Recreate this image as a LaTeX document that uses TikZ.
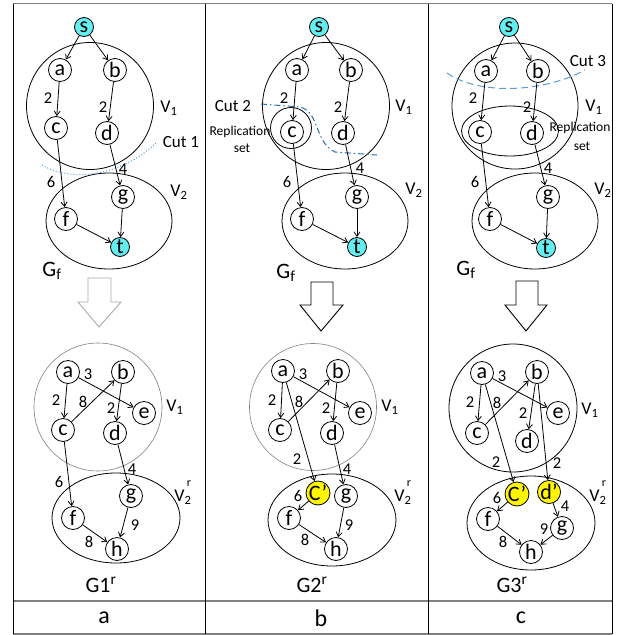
\documentclass[tikz,border=0pt]{standalone}
\usepackage{fontspec}
\setmainfont{Carlito}
\usetikzlibrary{arrows.meta}
\definecolor{cyanf}{RGB}{100,238,240}
\definecolor{yel}{RGB}{255,245,0}
\definecolor{cutblue}{RGB}{91,155,213}
\definecolor{cutdark}{RGB}{40,110,180}
\definecolor{tblgray}{RGB}{128,128,128}
\definecolor{arrgray}{RGB}{170,170,170}
\begin{document}
\begin{tikzpicture}[x=1pt,y=-1pt,
  vtx/.style={circle,draw,line width=0.8pt,minimum size=23pt,inner sep=0pt,font=\fontsize{22}{22}\selectfont},
  term/.style={vtx,fill=cyanf,minimum size=19pt},
  repl/.style={vtx,fill=yel},
  arr/.style={-{Straight Barb[length=4.5pt,width=6pt]},line width=0.8pt},
  lbl/.style={inner sep=0pt,font=\fontsize{16.5}{16.5}\selectfont},
  vlab/.style={inner sep=0pt,font=\fontsize{18}{18}\selectfont},
  suplab/.style={inner sep=0pt,font=\fontsize{12}{12}\selectfont},
  cutlab/.style={inner sep=0pt,font=\fontsize{17}{17}\selectfont},
  replab/.style={inner sep=0pt,font=\fontsize{13.5}{13.5}\selectfont},
  glab/.style={inner sep=0pt,font=\fontsize{22}{22}\selectfont},
  rowlab/.style={inner sep=0pt,font=\fontsize{24}{24}\selectfont},
  setline/.style={line width=0.8pt},
  hollowarrow/.style={line width=0.9pt,fill=white}
]
\useasboundingbox (0,0) rectangle (618,635);
% table
\draw[tblgray,line width=1.2pt] (13,3.5) -- (612,3.5);
\draw[tblgray,line width=1.2pt] (13,601) -- (612,601);
\draw[tblgray,line width=1.2pt] (13,634) -- (612,634);
\foreach \xx in {13,205,428,612} \draw[line width=1pt] (\xx,3.5) -- (\xx,634);

% ================= column a, top =================
\draw[setline] (90,106) circle [radius=63.5];
\draw[setline] (109,221) ellipse [x radius=63,y radius=48];
\draw[cutblue,line width=1pt,dotted] (42,165) .. controls (72,183) and (122,176) .. (157,142);
\node[term] (sA) at (84,27) {s};
\node[vtx] (aA) at (60,70) {a};
\node[vtx] (bA) at (115,70) {b};
\node[vtx] (cA) at (56,128) {c};
\node[vtx] (dA) at (107,133) {d};
\node[vtx] (gA) at (123,197) {g};
\node[vtx] (fA) at (66,219) {f};
\node[term] (tA) at (120,247) {t};
\draw[arr] (sA) -- (aA); \draw[arr] (sA) -- (bA);
\draw[arr] (aA) -- (cA); \draw[arr] (bA) -- (dA);
\draw[arr] (cA) -- (fA); \draw[arr] (dA) -- (gA);
\draw[arr] (fA) -- (tA); \draw[arr] (gA) -- (tA);
\node[lbl] (wA1) at (48,98) {2};
\node[lbl] (wA2) at (103,107) {2};
\node[lbl] (wA3) at (51,182) {6};
\node[lbl] (wA4) at (123,169) {4};
\node[vlab] (v1A) at (169,108) {V\textsubscript{1}};
\node[cutlab] (cut1) at (181,142) {Cut 1};
\node[vlab] (v2A) at (179,192) {V\textsubscript{2}};
\node[glab] (gfA) at (52,271) {G\textsubscript{f}};
\draw[arrgray,hollowarrow] (88,278) -- (111,278) -- (111,302) -- (121,302) -- (99,327) -- (78,302) -- (88,302) -- cycle;

% ================= column a, bottom =================
\draw[tblgray,line width=0.6pt] (98,407) circle [radius=64];
\draw[setline] (116,518) ellipse [x radius=64,y radius=45];
\node[vtx] (aA2) at (68,372) {a};
\node[vtx] (bA2) at (123,372) {b};
\node[vtx] (eA2) at (144,413) {e};
\node[vtx] (cA2) at (63,430) {c};
\node[vtx] (dA2) at (115,433) {d};
\node[vtx] (gA2) at (131,496) {g};
\node[vtx] (fA2) at (73,518) {f};
\node[vtx] (hA2) at (117,549) {h};
\draw[arr] (aA2) -- (cA2); \draw[arr] (aA2) -- (eA2);
\draw[arr] (cA2) -- (bA2); \draw[arr] (bA2) -- (dA2);
\draw[arr] (cA2) -- (fA2); \draw[arr] (dA2) -- (gA2);
\draw[arr] (fA2) -- (hA2); \draw[arr] (gA2) -- (hA2);
\node[lbl] (xA1) at (88,374) {3};
\node[lbl] (xA2) at (56,400) {2};
\node[lbl] (xA3) at (83,402) {8};
\node[lbl] (xA4) at (111,408) {2};
\node[vlab] (v1A2) at (175,407) {V\textsubscript{1}};
\node[lbl] (xA5) at (59,482) {6};
\node[lbl] (xA6) at (132,469) {4};
\node[vlab] (v2A2) at (183,497) {V\textsubscript{2}};
\node[suplab] (v2A2r) at (189,484) {r};
\node[lbl] (xA7) at (135,525) {9};
\node[lbl] (xA8) at (89,542) {8};
\node[glab] (gA1r) at (101,585) {G1\textsuperscript{r}};
\node[rowlab] (rowa) at (104,618) {a};

% ================= column b, top =================
\draw[setline] (326,106) circle [radius=63.5];
\draw[setline] (291,128) circle [radius=20.5];
\draw[setline] (345,221) ellipse [x radius=63,y radius=48];
\draw[cutdark,line width=1pt,dash pattern=on 6pt off 3pt on 1.5pt off 3pt] (261,104) -- (300,107) .. controls (320,112) and (314,142) .. (335,152) -- (377,155);
\node[term] (sB) at (319,27) {s};
\node[vtx] (aB) at (297,70) {a};
\node[vtx] (bB) at (351,70) {b};
\node[vtx] (cB) at (292,132) {c};
\node[vtx] (dB) at (343,133) {d};
\node[vtx] (gB) at (357,197) {g};
\node[vtx] (fB) at (302,219) {f};
\node[term] (tB) at (357,247) {t};
\draw[arr] (sB) -- (aB); \draw[arr] (sB) -- (bB);
\draw[arr] (aB) -- (cB); \draw[arr] (bB) -- (dB);
\draw[arr] (cB) -- (fB); \draw[arr] (dB) -- (gB);
\draw[arr] (fB) -- (tB); \draw[arr] (gB) -- (tB);
\node[lbl] (wB1) at (284,98) {2};
\node[lbl] (wB2) at (338,107) {2};
\node[lbl] (wB3) at (287,182) {6};
\node[lbl] (wB4) at (360,168) {4};
\node[vlab] (v1B) at (404,107) {V\textsubscript{1}};
\node[cutlab] (cut2) at (233,106) {Cut 2};
\node[replab] (repB1) at (240,132) {Replication};
\node[replab] (repB2) at (242,148) {set};
\node[vlab] (v2B) at (414,190) {V\textsubscript{2}};
\node[glab] (gfB) at (286,273) {G\textsubscript{f}};
\draw[hollowarrow] (311,282) -- (333,282) -- (333,305) -- (343,305) -- (321,331) -- (300,305) -- (311,305) -- cycle;

% ================= column b, bottom =================
\draw[tblgray,line width=0.6pt] (313,407) circle [radius=63.5];
\draw[setline] (332,520) ellipse [x radius=64,y radius=46];
\node[vtx] (aB2) at (283,371) {a};
\node[vtx] (bB2) at (338,371) {b};
\node[vtx] (eB2) at (360,413) {e};
\node[vtx] (cB2) at (280,430) {c};
\node[vtx] (dB2) at (332,433) {d};
\node[repl] (cpB2) at (318,493) {C’};
\node[vtx] (gB2) at (346,496) {g};
\node[vtx] (fB2) at (289,518) {f};
\node[vtx] (hB2) at (336,549) {h};
\draw[arr] (aB2) -- (cB2); \draw[arr] (aB2) -- (eB2);
\draw[arr] (cB2) -- (bB2); \draw[arr] (bB2) -- (dB2);
\draw[arr] (aB2) -- (cpB2); \draw[arr] (dB2) -- (gB2);
\draw[arr] (cpB2) -- (fB2);
\draw[arr] (fB2) -- (hB2); \draw[arr] (gB2) -- (hB2);
\node[lbl] (xB1) at (303,374) {3};
\node[lbl] (xB2) at (272,400) {2};
\node[lbl] (xB3) at (299,402) {8};
\node[lbl] (xB4) at (326,408) {2};
\node[vlab] (v1B2) at (390,407) {V\textsubscript{1}};
\node[lbl] (xB5) at (297,459) {2};
\node[lbl] (xB6) at (347,469) {4};
\node[lbl] (xB7) at (298,496) {6};
\node[vlab] (v2B2) at (403,497) {V\textsubscript{2}};
\node[suplab] (v2B2r) at (409,484) {r};
\node[lbl] (xB8) at (349,525) {9};
\node[lbl] (xB9) at (305,540) {8};
\node[glab] (gB1r) at (312,585) {G2\textsuperscript{r}};
\node[rowlab] (rowb) at (321,618) {b};

% ================= column c, top =================
\draw[setline] (515,106) circle [radius=63];
\draw[setline] (510,131) ellipse [x radius=48.5,y radius=25];
\draw[setline] (535,221) ellipse [x radius=63,y radius=48];
\draw[cutblue,line width=1pt,dash pattern=on 7pt off 4pt] (447,73) .. controls (480,96) and (545,92) .. (585,70);
\node[term] (sC) at (509,27) {s};
\node[vtx] (aC) at (486,71) {a};
\node[vtx] (bC) at (538,71) {b};
\node[vtx] (cC) at (480,132) {c};
\node[vtx] (dC) at (532,133) {d};
\node[vtx] (gC) at (548,197) {g};
\node[vtx] (fC) at (490,219) {f};
\node[term] (tC) at (546,248) {t};
\draw[arr] (sC) -- (aC); \draw[arr] (sC) -- (bC);
\draw[arr] (aC) -- (cC); \draw[arr] (bC) -- (dC);
\draw[arr] (cC) -- (fC); \draw[arr] (dC) -- (gC);
\draw[arr] (fC) -- (tC); \draw[arr] (gC) -- (tC);
\node[lbl] (wC1) at (473,98) {2};
\node[lbl] (wC2) at (527,107) {2};
\node[lbl] (wC3) at (475,182) {6};
\node[lbl] (wC4) at (548,168) {4};
\node[vlab] (v1C) at (594,107) {V\textsubscript{1}};
\node[cutlab] (cut3) at (588,61) {Cut 3};
\node[replab] (repC1) at (580,128) {Replication};
\node[replab] (repC2) at (582,146) {set};
\node[vlab] (v2C) at (603,190) {V\textsubscript{2}};
\node[glab] (gfC) at (466,270) {G\textsubscript{f}};
\draw[hollowarrow] (516,281) -- (538,281) -- (538,305) -- (547,305) -- (526,331) -- (505,305) -- (516,305) -- cycle;

% ================= column c, bottom =================
\draw[setline] (513,408) circle [radius=64];
\draw[setline] (531,523) ellipse [x radius=64,y radius=47];
\node[vtx] (aC2) at (482,373) {a};
\node[vtx] (bC2) at (537,372) {b};
\node[vtx] (eC2) at (558,413) {e};
\node[vtx] (cC2) at (477,433) {c};
\node[vtx] (dC2) at (527,441) {d};
\node[repl] (cpC2) at (517,494) {C’};
\node[repl] (dpC2) at (549,492) {d’};
\node[vtx] (gC2) at (562,528) {g};
\node[vtx] (fC2) at (488,519) {f};
\node[vtx] (hC2) at (531,552) {h};
\draw[arr] (aC2) -- (cC2); \draw[arr] (aC2) -- (eC2);
\draw[arr] (cC2) -- (bC2); \draw[arr] (bC2) -- (dC2);
\draw[arr] (aC2) -- (cpC2); \draw[arr] (bC2) -- (dpC2);
\draw[arr] (cpC2) -- (fC2); \draw[arr] (dpC2) -- (gC2);
\draw[arr] (fC2) -- (hC2); \draw[arr] (gC2) -- (hC2);
\node[lbl] (xC1) at (502,376) {3};
\node[lbl] (xC2) at (470,402) {2};
\node[lbl] (xC3) at (497,403) {8};
\node[lbl] (xC4) at (523,413) {2};
\node[vlab] (v1C2) at (590,410) {V\textsubscript{1}};
\node[lbl] (xC5) at (496,462) {2};
\node[lbl] (xC6) at (557,463) {2};
\node[lbl] (xC7) at (497,498) {6};
\node[lbl] (xC8) at (565,506) {4};
\node[vlab] (v2C2) at (598,497) {V\textsubscript{2}};
\node[suplab] (v2C2r) at (604,484) {r};
\node[lbl] (xC9) at (544,529) {9};
\node[lbl] (xC10) at (503,542) {8};
\node[glab] (gC1r) at (512,585) {G3\textsuperscript{r}};
\node[rowlab] (rowc) at (521,618) {c};
\end{tikzpicture}
\end{document}
